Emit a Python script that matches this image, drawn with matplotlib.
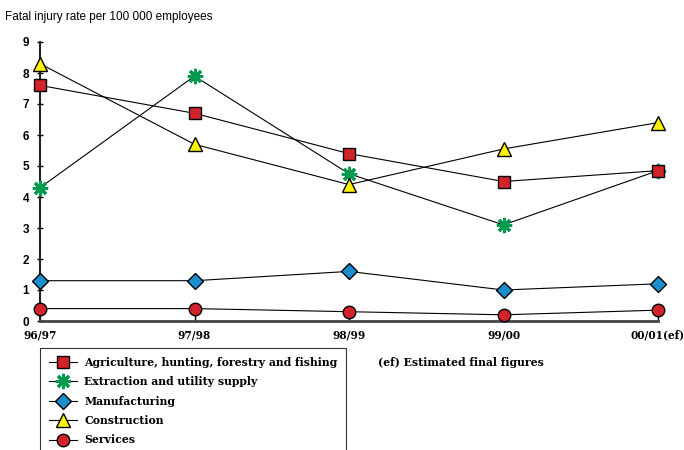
import matplotlib.pyplot as plt
from matplotlib.lines import Line2D

# ============================ #
# Data                         #
# ============================ #
years = ["96/97", "97/98", "98/99", "99/00", "00/01(ef)"]

agriculture = [7.6, 6.7, 5.4, 4.5, 4.85]
extraction = [4.3, 7.9, 4.75, 3.1, 4.85]
manufacturing = [1.3, 1.3, 1.6, 1.0, 1.2]
construction = [8.3, 5.7, 4.4, 5.55, 6.4]
services = [0.4, 0.4, 0.3, 0.2, 0.35]

series_names = [
    "Agriculture, hunting, forestry and fishing",
    "Extraction and utility supply",
    "Manufacturing",
    "Construction",
    "Services",
]

# ============================ #
# Styles                       #
# ============================ #
styles = [
    dict(marker="s", mfc="#D2232A", mec="black", ms=8, zorder=4),
    dict(marker=(8, 2, 0), mfc="#009A4E", mec="#009A4E", ms=11, mew=2.2, zorder=3),
    dict(marker="D", mfc="#1B8FCE", mec="black", ms=8, zorder=3),
    dict(marker="^", mfc="#FFF200", mec="black", ms=10, zorder=3),
    dict(marker="o", mfc="#D2232A", mec="black", ms=9, zorder=3),
]

serif = "DejaVu Serif"

fig = plt.figure(figsize=(6.84, 4.5), dpi=100)
ax = fig.add_axes([40 / 684, 1 - 321 / 450, 618 / 684, 279 / 450])

x = list(range(len(years)))
all_series = [agriculture, extraction, manufacturing, construction, services]
for vals, st in zip(all_series, styles):
    ax.plot(x, vals, color="black", lw=0.8, clip_on=False, **st)

ax.set_xlim(0, len(years) - 1)
ax.set_ylim(0, 9)
ax.set_yticks(range(0, 10))
ax.set_xticks(x)
ax.set_xticklabels(years, fontfamily=serif, fontweight="bold", fontsize=7.6)
for lab in ax.get_yticklabels():
    lab.set_fontweight("bold")
    lab.set_fontsize(8.5)
    lab.set_fontfamily("Liberation Sans")

for s in ["top", "right"]:
    ax.spines[s].set_visible(False)
ax.spines["left"].set_color("#222222")
ax.spines["left"].set_linewidth(1.5)
ax.spines["bottom"].set_color("#444444")
ax.spines["bottom"].set_linewidth(2)
ax.tick_params(axis="y", direction="inout", length=4, width=1, pad=6)
ax.tick_params(axis="x", direction="in", length=4, width=1, pad=6)

fig.text(5 / 684, 1 - 17 / 450, "Fatal injury rate per 100 000 employees",
         fontsize=8.5, fontfamily="Liberation Sans", va="center")

# ============================ #
# Legend                       #
# ============================ #
handles = [Line2D([0], [0], color="black", lw=0.8, **{k: v for k, v in st.items() if k != "zorder"})
           for st in styles]
leg = fig.legend(handles, series_names, loc="upper left",
                 bbox_to_anchor=(40 / 684, 1 - 348 / 450),
                 prop=dict(family=serif, weight="bold", size=7.8),
                 frameon=True, fancybox=False, edgecolor="black",
                 borderpad=0.8, labelspacing=0.78, handlelength=2.6,
                 handletextpad=0.7, borderaxespad=0)
leg.get_frame().set_linewidth(0.8)

fig.text(378 / 684, 1 - 362 / 450, "(ef) Estimated final figures",
         fontsize=7.8, fontfamily=serif, fontweight="bold", va="center")

fig.savefig("out.png", dpi=100)
